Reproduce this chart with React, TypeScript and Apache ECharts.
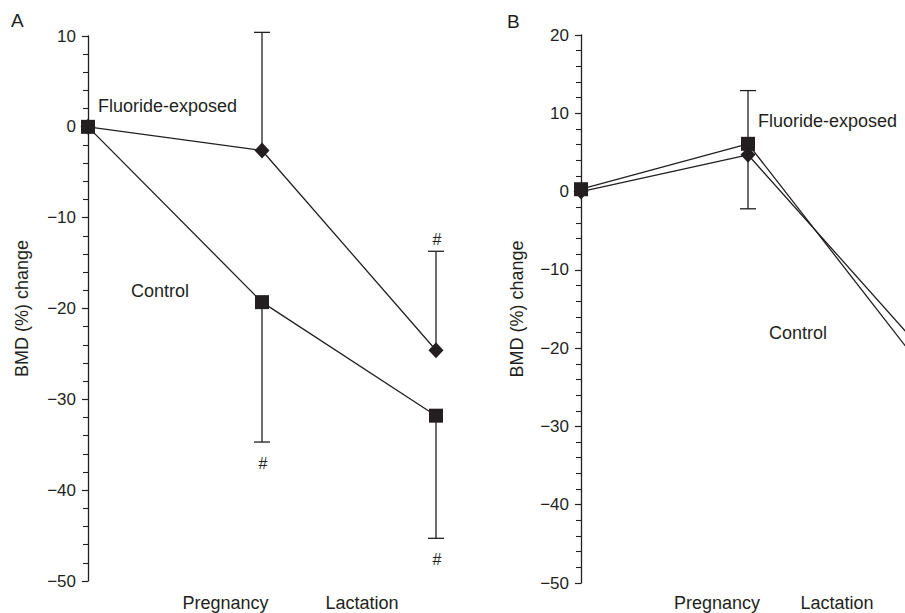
import React, { useEffect, useRef } from 'react';
import * as echarts from 'echarts';

// ---- data ----
const timePoints = [0, 1, 2];
const xLabels = ['Pregnancy', 'Lactation'];
const xLabelPosA = [0.79, 1.575];
const xLabelPosB = [0.814, 1.533];
const yRangeA = [-50, 10];
const yRangeB = [-50, 20];
// panel B is cropped at the right edge of the figure
const xRangeA = [0, 2];
const xRangeB = [0, 1.94];

const fluorideA = [0, -2.6, -24.6];
const controlA = [0, -19.3, -31.8];
const fluorideB = [0, 4.7, -19.2];
const controlB = [0.3, 6.1, -21.3];

// [x, from, to, hash]
const errorA = [
  [1, -2.6, 10.4, 0],
  [1, -19.3, -34.7, 1],
  [2, -24.6, -13.7, 1],
  [2, -31.8, -45.3, 1],
];
const errorB = [
  [1, 6.1, 12.9, 0],
  [1, 4.7, -2.2, 0],
];

const groupLabels = ['Fluoride-exposed', 'Control'];
const panelLetters = ['A', 'B'];
const yAxisName = 'BMD (%) change';

const INK = '#231f20';
const FONT = '"Liberation Sans", Arial, sans-serif';

const renderErr = (params: any, api: any) => {
  const x = api.value(0);
  const from = api.value(1);
  const to = api.value(2);
  const hash = api.value(3);
  const p0 = api.coord([x, from]);
  const p1 = api.coord([x, to]);
  const st = { stroke: INK, lineWidth: 1.3 };
  const children: any[] = [
    { type: 'line', shape: { x1: p0[0], y1: p0[1], x2: p1[0], y2: p1[1] }, style: st },
    { type: 'line', shape: { x1: p1[0] - 8, y1: p1[1], x2: p1[0] + 8, y2: p1[1] }, style: st },
  ];
  if (hash) {
    const down = to < from;
    children.push({
      type: 'text',
      x: p1[0] + 1,
      y: p1[1] + (down ? 21 : -12),
      style: { text: '#', fill: INK, fontSize: 16, fontFamily: FONT, align: 'center', verticalAlign: 'middle' },
    });
  }
  return { type: 'group', children };
};

const fmtY = (v: number) => (v < 0 ? '\u2212' + Math.abs(v) : String(v));

const makeY = (idx: number, range: number[], gap: number) => ({
  type: 'value',
  gridIndex: idx,
  min: range[0],
  max: range[1],
  interval: 10,
  name: yAxisName,
  nameLocation: 'middle',
  nameGap: gap,
  nameTextStyle: { fontSize: 18, fontFamily: FONT, color: INK },
  axisLine: { show: true, onZero: false, lineStyle: { color: INK, width: 1.3 } },
  axisTick: { show: true, inside: false, length: 6, lineStyle: { color: INK, width: 1.2 } },
  minorTick: { show: true, splitNumber: 5, length: 5, lineStyle: { color: INK, width: 1.1 } },
  splitLine: { show: false },
  minorSplitLine: { show: false },
  axisLabel: { fontSize: 17, fontFamily: FONT, color: INK, margin: 12, formatter: fmtY },
});

const makeX = (idx: number, range: number[], pos: number[], margin: number) => ({
  type: 'value',
  gridIndex: idx,
  min: range[0],
  max: range[1],
  axisLine: { show: false, onZero: false },
  axisTick: { show: false },
  splitLine: { show: false },
  axisLabel: {
    show: true,
    customValues: pos,
    margin,
    fontSize: 18,
    fontFamily: FONT,
    color: INK,
    formatter: (v: number) => {
      const i = pos.findIndex((p) => Math.abs(p - v) < 1e-6);
      return i >= 0 ? xLabels[i] : '';
    },
  },
});

const lineSeries = (name: string, vals: number[], symbol: string, size: any, idx: number, z: number) => ({
  type: 'line',
  name,
  xAxisIndex: idx,
  yAxisIndex: idx,
  data: timePoints.map((t, i) => [t, vals[i]]),
  symbol,
  symbolSize: size,
  showAllSymbol: true,
  clip: true,
  lineStyle: { color: INK, width: 1.3 },
  itemStyle: { color: INK, borderWidth: 0 },
  z,
});

const textEl = (text: string, x: number, y: number, size: number) => ({
  type: 'text',
  x,
  y,
  style: { text, fill: INK, fontSize: size, fontFamily: FONT, verticalAlign: 'middle' },
});

export default function App() {
  const ref = useRef<HTMLDivElement>(null);
  useEffect(() => {
    if (!ref.current) return;
    const chart = echarts.init(ref.current, undefined, { renderer: 'svg' });
    chart.setOption({
      animation: false,
      backgroundColor: '#ffffff',
      grid: [
        { left: 88, top: 36, right: 469, bottom: 32 },
        { left: 581, top: 35, right: 0, bottom: 30 },
      ],
      xAxis: [makeX(0, xRangeA, xLabelPosA, 13), makeX(1, xRangeB, xLabelPosB, 11)],
      yAxis: [makeY(0, yRangeA, 57), makeY(1, yRangeB, 55)],
      series: [
        lineSeries(groupLabels[0] + ' A', fluorideA, 'diamond', [15, 16], 0, 3),
        lineSeries(groupLabels[1] + ' A', controlA, 'rect', 14, 0, 4),
        lineSeries(groupLabels[0] + ' B', fluorideB, 'diamond', [15, 16], 1, 4),
        lineSeries(groupLabels[1] + ' B', controlB, 'rect', 14, 1, 3),
        {
          type: 'custom',
          xAxisIndex: 0,
          yAxisIndex: 0,
          data: errorA,
          renderItem: renderErr,
          encode: { x: 0, y: [1, 2] },
          z: 2,
        },
        {
          type: 'custom',
          xAxisIndex: 1,
          yAxisIndex: 1,
          data: errorB,
          renderItem: renderErr,
          encode: { x: 0, y: [1, 2] },
          z: 2,
        },
      ],
      graphic: [
        textEl(panelLetters[0], 11, 20, 19),
        textEl(panelLetters[1], 507, 21, 19),
        textEl(groupLabels[0], 98, 106, 18),
        textEl(groupLabels[1], 131, 291, 18),
        textEl(groupLabels[0], 758, 121, 18),
        textEl(groupLabels[1], 769, 333, 18),
      ],
    });
    return () => chart.dispose();
  }, []);
  return (
    <div
      ref={ref}
      style={{ position: 'fixed', left: 0, top: 0, width: 905, height: 613, background: '#fff' }}
    />
  );
}
